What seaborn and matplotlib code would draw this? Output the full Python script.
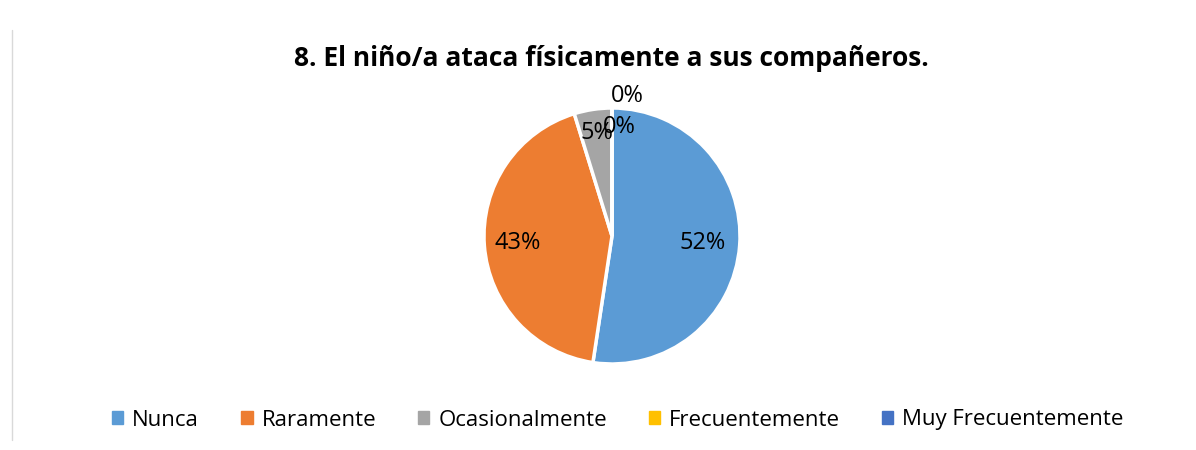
import matplotlib
matplotlib.use("Agg")
import matplotlib.pyplot as plt
import seaborn as sns
import numpy as np

categories = ["Nunca", "Raramente", "Ocasionalmente", "Frecuentemente", "Muy Frecuentemente"]
counts = [11, 9, 1, 0, 0]
colors = ["#5B9BD5", "#ED7D31", "#A5A5A5", "#FFC000", "#4472C4"]
title = "8. El niño/a ataca físicamente a sus compañeros."

sns.set_theme(style="white")
plt.rcParams['font.family'] = ['Open Sans', 'DejaVu Sans']

W, H = 1196, 450
fig = plt.figure(figsize=(W / 100, H / 100), dpi=100)
cx, cy, r = 612, 236, 128
half = 1.5 * r
ax = fig.add_axes([(cx - half) / W, (H - cy - half) / H, 2 * half / W, 2 * half / H])

palette = sns.color_palette(colors)
total = sum(counts)
wedges, texts, autotexts = ax.pie(
    counts, colors=palette, startangle=90, counterclock=False,
    autopct=lambda p: f"{p:.0f}%", pctdistance=0.7,
    wedgeprops=dict(edgecolor="white", linewidth=2.5),
    textprops=dict(fontsize=17, color="black"))
ax.set_xlim(-1.5, 1.5)
ax.set_ylim(-1.5, 1.5)
ax.set_aspect("equal")
ax.axis("off")

# label placements (radius, x-offset) per slice
label_r = [0.71, 0.74, 0.81, 0.85, 1.09]
label_dx = [0.0, 0.0, 0.0, 0.06, 0.12]
angle = 90.0
for i, (c, t) in enumerate(zip(counts, autotexts)):
    frac = c / total * 360
    mid = np.deg2rad(angle - frac / 2)
    angle -= frac
    t.set_position((label_r[i] * np.cos(mid) + label_dx[i], label_r[i] * np.sin(mid)))
    t.set_ha("center")
    t.set_va("center")

fig.text(611 / W, 1 - 58 / H, title, ha="center", va="center",
         fontsize=19, fontweight="bold", color="black")

handles = [plt.Rectangle((0, 0), 1, 1, color=c) for c in palette]
leg = fig.legend(handles, categories, loc="center", bbox_to_anchor=(618 / W, 1 - 420 / H),
                 ncol=5, frameon=False, fontsize=16, handlelength=0.5, handleheight=0.5,
                 handletextpad=0.4, columnspacing=1.9)
for t in leg.get_texts():
    t.set_color("black")

fig.add_artist(plt.Line2D([12 / W, 12 / W], [1 - 440 / H, 1 - 30 / H],
                          color="#d9d9d9", linewidth=1))

fig.savefig("out.png", dpi=100, facecolor="white")
